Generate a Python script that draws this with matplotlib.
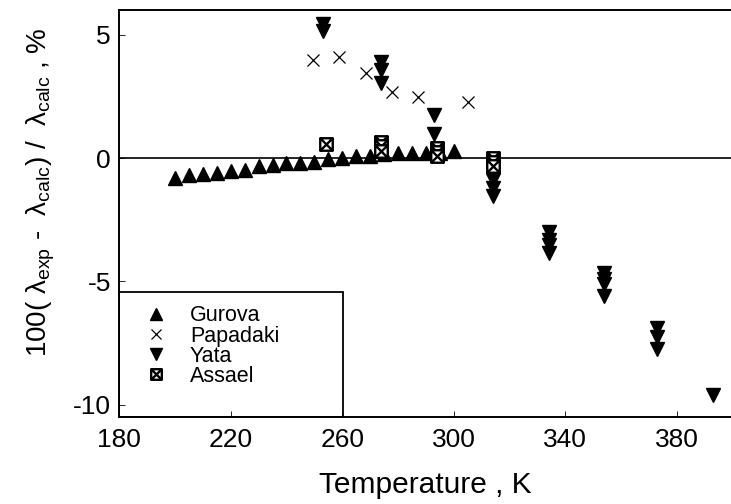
import matplotlib
matplotlib.use("Agg")
import matplotlib.pyplot as plt
from matplotlib.path import Path
from matplotlib.patches import Rectangle

plt.rcParams['font.family'] = ['Liberation Sans', 'DejaVu Sans']

# Gurova
gurova_T = [200, 205, 210, 215, 220, 225, 230, 235, 240, 245, 250,
            255, 260, 265, 270, 275, 280, 285, 290, 295, 300]
gurova_dev = [-0.80, -0.70, -0.62, -0.60, -0.52, -0.47, -0.33, -0.28, -0.20, -0.18, -0.15,
              -0.02, 0.00, 0.08, 0.10, 0.17, 0.20, 0.20, 0.20, 0.23, 0.30]

# Papadaki
papadaki_T = [249.5, 259, 268.5, 278, 287, 305]
papadaki_dev = [4.0, 4.1, 3.45, 2.7, 2.5, 2.3]

# Yata
yata_T = [253, 253, 274, 274, 274, 293, 293, 314, 314, 314,
          334, 334, 334, 334, 354, 354, 354, 354, 373, 373, 373, 393]
yata_dev = [5.45, 5.15, 3.9, 3.58, 3.05, 1.75, 1.0, -0.9, -1.2, -1.55,
            -3.0, -3.3, -3.5, -3.85, -4.65, -4.9, -5.1, -5.6, -6.9, -7.25, -7.75, -9.6]

# Assael
assael_T = [254, 274, 274, 274, 294, 294, 294, 314, 314, 314]
assael_dev = [0.58, 0.65, 0.5, 0.3, 0.4, 0.25, 0.1, 0.0, -0.15, -0.3]

x_ticks = [180, 220, 260, 300, 340, 380]
y_ticks = [5, 0, -5, -10]

# crossed-square marker: outline plus both diagonals
boxx = Path([(-1, -1), (1, -1), (1, 1), (-1, 1), (-1, -1),
             (-1, -1), (1, 1), (-1, 1), (1, -1)],
            [Path.MOVETO, Path.LINETO, Path.LINETO, Path.LINETO, Path.CLOSEPOLY,
             Path.MOVETO, Path.LINETO, Path.MOVETO, Path.LINETO])

fig = plt.figure(figsize=(7.31, 5.04), dpi=100)
ax = fig.add_axes([0.163, 0.173, 0.837, 0.807])

ax.axhline(0, color='black', lw=1.2, zorder=1)

ax.plot(gurova_T, gurova_dev, ls='none', marker='^', ms=9.5, color='black',
        label='Gurova', zorder=3)
ax.plot(papadaki_T, papadaki_dev, ls='none', marker='x', ms=9, mew=0.9,
        color='black', label='Papadaki', zorder=3)
ax.plot(yata_T, yata_dev, ls='none', marker='v', ms=10, color='black',
        label='Yata', zorder=3)
ax.plot(assael_T, assael_dev, ls='none', marker=boxx, ms=9, mew=1.7,
        mfc='white', mec='black', label='Assael', zorder=4)

ax.set_xlim(180, 399.4)
ax.set_ylim(-10.49, 6.01)
ax.set_xticks(x_ticks)
ax.set_yticks(y_ticks)
ax.set_yticklabels([str(v) for v in y_ticks])
ax.tick_params(direction='in', length=4, width=0.6, labelsize=19, pad=8)
ax.tick_params(axis='y', pad=6)

for side in ('left', 'bottom', 'top'):
    ax.spines[side].set_linewidth(1.4)
ax.spines['right'].set_visible(False)

ax.set_xlabel('Temperature , K', fontsize=21.5, labelpad=14)
ax.set_ylabel(r'100( $\mathregular{λ_{exp}}$ -  $\mathregular{λ_{calc}}$) /  $\mathregular{λ_{calc}}$ , %',
              fontsize=20)
ax.yaxis.set_label_coords(-0.101, 0.553)

# legend frame
ax.add_patch(Rectangle((0, 0), 0.366, 0.307, transform=ax.transAxes,
                       fill=False, ec='black', lw=1.3, zorder=5))
leg = ax.legend(loc='upper left', bbox_to_anchor=(0.042, 0.274),
                frameon=False, fontsize=15.5, handlelength=1.0,
                handletextpad=1.1, labelspacing=-0.04, borderpad=0,
                borderaxespad=0, markerscale=0.85)
leg.set_zorder(6)

fig.savefig('out.png', dpi=100)
